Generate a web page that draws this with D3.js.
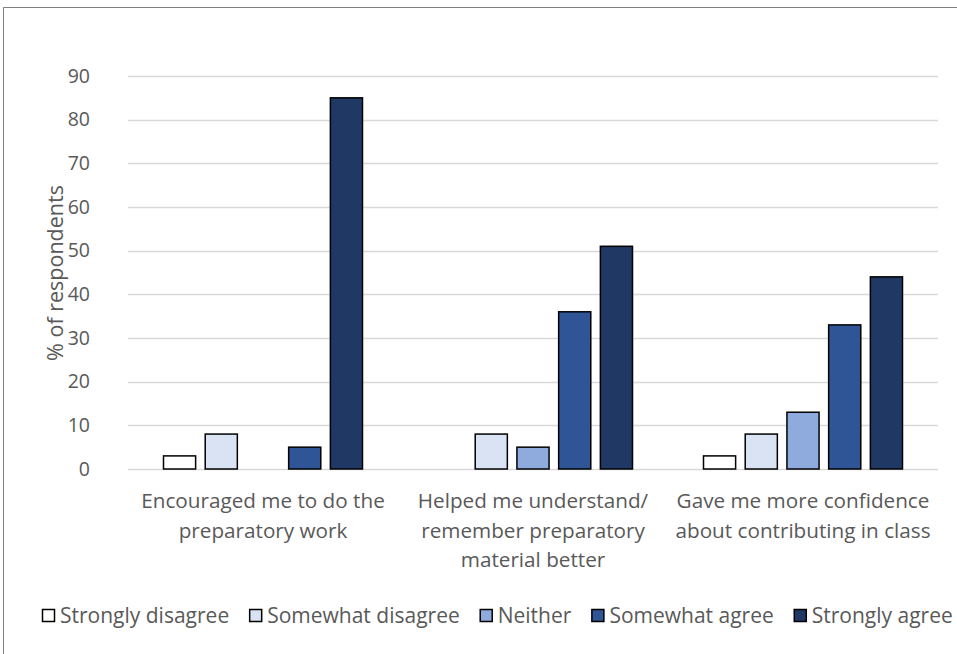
<!DOCTYPE html>
<html>
<head>
<meta charset="utf-8">
<script src="https://cdn.jsdelivr.net/npm/d3@7"></script>
<style>
  html, body { margin: 0; padding: 0; background: #fff; }
  svg text { font-family: "Open Sans", "Noto Sans", sans-serif; fill: #595959; }
</style>
</head>
<body>
<svg id="chart" width="957" height="654"></svg>
<script>
// Survey statements (x categories), one line per array entry
const categories = [
  ["Encouraged me to do the", "preparatory work"],
  ["Helped me understand/", "remember preparatory", "material better"],
  ["Gave me more confidence", "about contributing in class"]
];
const seriesNames = ["Strongly disagree", "Somewhat disagree", "Neither", "Somewhat agree", "Strongly agree"];
const seriesColors = ["#ffffff", "#dae3f3", "#8faadc", "#2f5597", "#203864"];

// Percent of respondents per series, one value per category
const stronglyDisagree = [3, 0, 3];
const somewhatDisagree = [8, 8, 8];
const neither          = [0, 5, 13];
const somewhatAgree    = [5, 36, 33];
const stronglyAgree    = [85, 51, 44];
const seriesValues = [stronglyDisagree, somewhatDisagree, neither, somewhatAgree, stronglyAgree];

const yTicks = [0, 10, 20, 30, 40, 50, 60, 70, 80, 90];

const svg = d3.select("#chart");

// chart frame (top and left edges)
svg.append("path")
  .attr("d", "M3.5,654 V7.5 H957")
  .attr("fill", "none")
  .attr("stroke", "#7f7f7f")
  .attr("stroke-width", 1);

const plot = { left: 128, right: 938, top: 76, bottom: 469 };

const x0 = d3.scaleBand()
  .domain(d3.range(categories.length))
  .range([plot.left, plot.right])
  .paddingInner(0).paddingOuter(0);

const x1 = d3.scaleBand()
  .domain(d3.range(seriesNames.length))
  .range([35.5, 234.5])
  .paddingInner(0.23).paddingOuter(0);

const y = d3.scaleLinear().domain([0, 90]).range([plot.bottom, plot.top]);

// gridlines
svg.append("g")
  .selectAll("line")
  .data(yTicks)
  .join("line")
  .attr("x1", plot.left).attr("x2", plot.right)
  .attr("y1", d => Math.round(y(d)) + 0.5).attr("y2", d => Math.round(y(d)) + 0.5)
  .attr("stroke", "#d9d9d9").attr("stroke-width", 1.5);

// y axis labels
const yAxis = d3.axisLeft(y).tickValues(yTicks).tickSize(0).tickPadding(0);
const yg = svg.append("g").attr("transform", `translate(${plot.left - 38},0)`).call(yAxis);
yg.select(".domain").remove();
yg.selectAll("text")
  .style("font-family", "'Open Sans', sans-serif")
  .attr("font-size", 19.5).attr("fill", "#595959");

// y axis title
svg.append("text")
  .attr("transform", `translate(63,273) rotate(-90)`)
  .attr("text-anchor", "middle")
  .attr("font-size", 21.5)
  .text("% of respondents");

// bars
const groups = svg.append("g")
  .selectAll("g")
  .data(categories.map((c, i) => i))
  .join("g")
  .attr("transform", i => `translate(${x0(i)},0)`);

groups.selectAll("rect")
  .data(i => seriesValues.map((vals, s) => ({ s, v: vals[i] })).filter(d => d.v > 0))
  .join("rect")
  .attr("x", d => x1(d.s))
  .attr("width", x1.bandwidth())
  .attr("y", d => y(d.v))
  .attr("height", d => y(0) - y(d.v))
  .attr("fill", d => seriesColors[d.s])
  .attr("stroke", "#000")
  .attr("stroke-width", 1.5);

// category labels
const xl = svg.append("g");
categories.forEach((lines, i) => {
  const t = xl.append("text")
    .attr("x", x0(i) + x0.bandwidth() / 2)
    .attr("y", 508)
    .attr("text-anchor", "middle")
    .attr("font-size", 20.7);
  lines.forEach((ln, k) => {
    t.append("tspan")
      .attr("x", x0(i) + x0.bandwidth() / 2)
      .attr("dy", k === 0 ? 0 : 29.5)
      .text(ln);
  });
});

// legend
const legend = svg.append("g").attr("transform", "translate(42,616)");
let lx = 0;
seriesNames.forEach((name, s) => {
  const item = legend.append("g").attr("transform", `translate(${lx},0)`);
  item.append("rect")
    .attr("x", 0.5).attr("y", -6.5).attr("width", 12).attr("height", 12)
    .attr("fill", seriesColors[s]).attr("stroke", "#000").attr("stroke-width", 1.5);
  const t = item.append("text")
    .attr("x", 18).attr("y", 0).attr("dy", "0.35em")
    .attr("font-size", 21)
    .text(name);
  lx += 18 + t.node().getComputedTextLength() + 20;
});
</script>
</body>
</html>
